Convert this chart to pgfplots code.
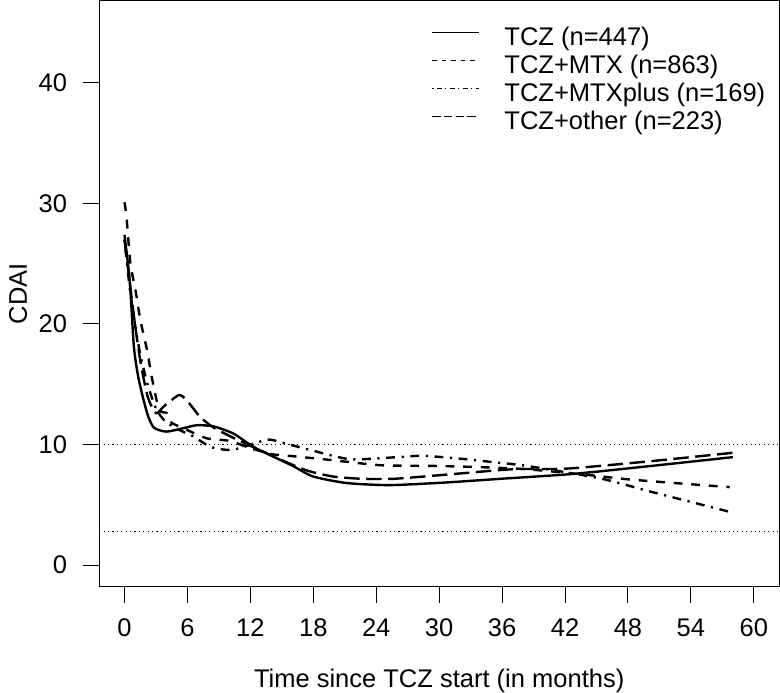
\documentclass[border=0pt]{standalone}
\usepackage{fontspec}
\setmainfont{Liberation Sans}
\usepackage{pgfplots}
\pgfplotsset{compat=1.18}
\begin{document}
\begin{tikzpicture}[font=\fontsize{25.5}{30}\selectfont]
\begin{axis}[
  at={(0,0)}, anchor=south west,
  scale only axis, width=679.7pt, height=585.7pt,
  xmin=-2.4, xmax=62.4, ymin=-1.8, ymax=46.8,
  xtick={0,6,...,60}, ytick={0,10,20,30,40},
  tick align=outside, major tick length=16pt, tick pos=left,
  axis line style={line width=1pt},
  every tick/.style={line width=1pt, black},
  /pgf/number format/assume math mode=true,
  ticklabel style={font=\fontsize{25.5}{30}\selectfont, inner sep=0pt},
  xticklabel shift=16pt, yticklabel shift=16pt,
  xlabel={Time since TCZ start (in months)},
  ylabel={CDAI},
  label style={font=\fontsize{25.5}{30}\selectfont},
  xlabel style={at={(axis description cs:0.5,-0.161)}, anchor=center, inner sep=0pt},
  ylabel style={at={(axis description cs:-0.1196,0.5)}, anchor=center, inner sep=0pt},
  legend cell align=left,
  legend style={draw=none, fill=none, at={(rel axis cs:0.489,0.9556)}, anchor=north west,
    inner sep=0pt, row sep=5pt, column sep=0pt,
    font=\fontsize{25.5}{30}\selectfont,
    /tikz/every odd column/.append style={column sep=25pt},
    nodes={inner sep=0pt, text height=18pt, text depth=5pt}},
  legend image code/.code={\draw[#1] (0pt,6.5pt) -- (46.6pt,6.5pt);},
]
\addplot[black, line width=1pt, dash pattern=on 1.1pt off 3.3pt, forget plot] coordinates {(-2.4,10) (62.4,10)};
\addplot[black, line width=1pt, dash pattern=on 1.1pt off 3.3pt, forget plot] coordinates {(-2.4,2.8) (62.4,2.8)};

\addlegendimage{black, line width=1pt}
\addlegendentry{TCZ (n=447)}
\addlegendimage{black, line width=1pt, dash pattern=on 4.7pt off 4.7pt}
\addlegendentry{TCZ+MTX (n=863)}
\addlegendimage{black, line width=1pt, dash pattern=on 1.2pt off 3.5pt on 4.7pt off 3.5pt}
\addlegendentry{TCZ+MTXplus (n=169)}
\addlegendimage{black, line width=1pt, dash pattern=on 8.2pt off 3.5pt}
\addlegendentry{TCZ+other (n=223)}

% TCZ
\addplot[black, line width=2.4pt, smooth, tension=0.4, forget plot] coordinates {
(0,27.4) (0.5,23.6) (0.9,18.1) (1.36,15.4) (2.16,12.6) (2.8,11.4) (4.0,11.07)
(5.6,11.35) (6.9,11.6) (8.5,11.5) (10.4,10.9) (12.3,9.8) (14.9,8.7) (16.1,8.2)
(18,7.34) (21.2,6.8) (25.3,6.63) (30.7,6.85) (35.8,7.15) (42.8,7.56) (50,8.2) (58,8.95)};
% TCZ+MTX
\addplot[black, line width=2.4pt, smooth, tension=0.4, dash pattern=on 8.8pt off 8.8pt, forget plot] coordinates {
(0,30.1) (0.19,28.9) (0.57,25.0) (1.05,22.8) (1.52,20.3) (2.16,17.8) (2.6,15.6)
(3.3,12.9) (4.06,12.6) (4.5,11.8) (5.5,11.4) (6.3,11.07) (7.9,10.5) (10,10.3)
(12,9.7) (14,9.2) (15.8,9.05) (19.6,8.72) (24.4,8.28) (29.1,8.23) (33.9,8.12)
(38.3,7.95) (44.1,7.48) (48.5,7.07) (57.7,6.46)};
% TCZ+MTXplus
\addplot[black, line width=2.4pt, smooth, tension=0.4, dash pattern=on 2.2pt off 6.6pt on 8.8pt off 6.6pt, forget plot] coordinates {
(0,27) (0.5,23) (1,20) (1.5,17.5) (2.2,15) (3,13) (3.8,12) (5,11.3) (6.5,10.7)
(8.2,9.8) (9.8,9.55) (11,9.7) (13.6,10.4) (15,10.16) (17.7,9.55) (21.5,8.78)
(26,8.95) (28.5,9.06) (32.3,8.8) (35.5,8.5) (38.3,8.23) (45.3,7.2) (50.1,6.1) (57.8,4.39)};
% TCZ+other
\addplot[black, line width=2.4pt, smooth, tension=0.4, dash pattern=on 15.4pt off 6.6pt, forget plot] coordinates {
(0,27) (0.5,23.5) (1,20) (1.5,17) (2.2,14) (3,12.6) (3.8,13.2) (5.2,14.1) (6,13.6)
(7.2,12.3) (8.5,11.4) (10.5,10.5) (13,9.5) (15,8.7) (17.4,7.84) (19.9,7.34)
(22.7,7.15) (25.6,7.15) (28.5,7.34) (32.3,7.62) (37.1,7.95) (42.2,8.0) (50,8.6) (58.2,9.33)};
\end{axis}
\pgfresetboundingbox
\path[use as bounding box] (-99.3pt,-106.3pt) rectangle (680.7pt,586.7pt);
\end{tikzpicture}
\end{document}
